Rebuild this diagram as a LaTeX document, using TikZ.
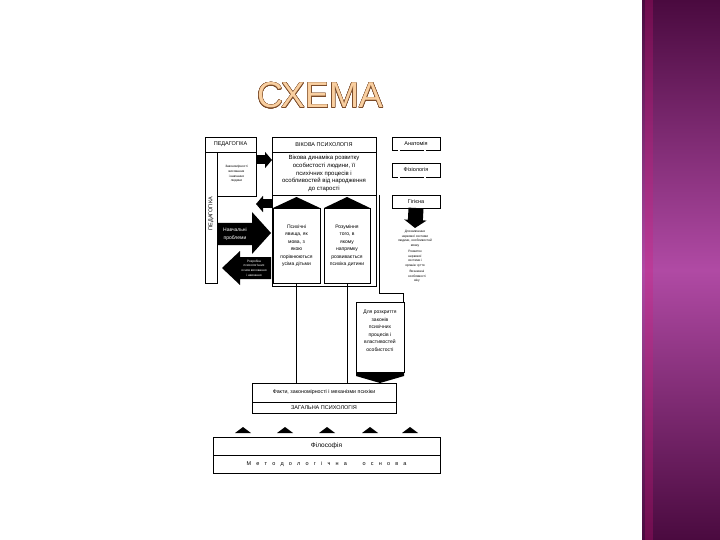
\documentclass[tikz,border=0pt]{standalone}
\usepackage{fontspec}
\setmainfont{Liberation Sans}
\usepackage[copies]{contour}
\usetikzlibrary{positioning,calc,arrows.meta}
\definecolor{plumdark}{HTML}{4A0A3F}
\definecolor{plummid}{HTML}{B04AA4}
\definecolor{titlefill}{HTML}{F9CFA0}
\definecolor{titleline}{HTML}{7A4A28}
\contourlength{0.4pt}
\tikzset{
    box/.style = {
        draw,
        line width=0.5pt,
        inner sep=0pt,
        outer sep=0pt,
        align=center,
        },
    headtext/.style = {
        font=\fontsize{5.5}{6}\selectfont,
        },
    bodytext/.style = {
        font=\fontsize{5}{7.5}\selectfont,
        align=center,
        },
    smalltext/.style = {
        font=\fontsize{3.2}{4.6}\selectfont,
        align=center,
        inner sep=0pt,
        },
    blockarrow/.style = {
        fill=black,
        },
    roof/.style = {
        fill=black,
        },
    twin/.style = {
        double,
        double distance=1.6pt,
        line width=0.5pt,
        },
    fatarrow/.style = {
        line width=9pt,
        -{Triangle[length=7pt,width=16pt]},
        },
}

\begin{document}
\begin{tikzpicture}[x=1pt, y=-1pt]
    \useasboundingbox (0,0) rectangle (720,540);
    \fill[white] (0,0) rectangle (720,540);

    % side band
    \shade[top color=plumdark, bottom color=plumdark, middle color=plummid] (642,0) rectangle (720,540);
    \fill[magenta!70!purple, opacity=0.25] (645,0) rectangle (653,540);

    \node[font=\fontsize{36}{36}\selectfont, text=titlefill, anchor=base] (title) at (320,108) {\contour{titleline}{СХЕМА}};

    % pedagogy column
    \node[box, headtext, minimum width=51pt, minimum height=15pt] (pedhead) at (230.5,144.5) {ПЕДАГОГІКА};
    \node[box, minimum width=12pt, minimum height=131pt, below=0pt of pedhead.south west, anchor=north west] (pedcol) {};
    \node[headtext, rotate=90] (pedlabel) at ($(pedcol)+(0,-4)$) {ПЕДАГОГІКА};
    \node[box, smalltext, minimum width=39pt, minimum height=44pt, anchor=north west] (zakon) at (pedcol.north east) {Закономірності\\виховання\\і навчання\\людини};

    % age psychology
    \node[box, headtext, minimum width=104pt, minimum height=15pt, anchor=north west] (vikhead) at (272,137) {ВІКОВА ПСИХОЛОГІЯ};
    \node[box, font=\fontsize{6}{7.8}\selectfont, minimum width=104pt, minimum height=43pt, below=0pt of vikhead] (vikopys) {Вікова динаміка розвитку\\особистості людини, її\\психічних процесів і\\особливостей від народження\\до старості};
    \node[box, minimum width=104pt, minimum height=91pt, below=0pt of vikopys] (vikframe) {};

    \node[box, bodytext, minimum width=47pt, minimum height=75pt, anchor=north west] (psykh) at (273,208) {Психічні\\явища, як\\мова, з\\якою\\порівнюються\\усіма дітьми};
    \node[box, bodytext, minimum width=46pt, minimum height=75pt, anchor=north west] (rozum) at (324,208) {Розуміння\\того, в\\якому\\напрямку\\розвивається\\психіка дитини};
    \fill[roof] (psykh.north west) -- (psykh.north east) -- ($(psykh.north)+(0,-11)$) -- cycle;
    \fill[roof] (rozum.north west) -- (rozum.north east) -- ($(rozum.north)+(0,-11)$) -- cycle;

    \draw[fatarrow] ([yshift=-8pt]zakon.north east) -- ([yshift=-8pt]vikopys.north west);
    \draw[fatarrow] ([yshift=-9pt]vikframe.north west) -- ([yshift=-8pt]zakon.south east);

    % big arrows
    \fill[blockarrow] (217,223) -- (252,223) -- (252,212) -- (271,233) -- (252,254) -- (252,245) -- (217,245) -- cycle;
    \node[bodytext, text=white] (navch) at (235,234) {Навчальні\\проблеми};
    \fill[blockarrow] (271,257) -- (240,257) -- (240,251) -- (222,268) -- (240,285) -- (240,279) -- (271,279) -- cycle;
    \node[smalltext, text=white] (rozrob) at (254,268) {Розробка\\психологічних\\основ виховання\\і навчання};

    % right column
    \node[box, headtext, minimum width=48pt, minimum height=13pt] (anat) at (416,143.5) {Анатомія};
    \node[box, headtext, minimum width=48pt, minimum height=14pt, below=13pt of anat] (fiz) {Фізіологія};
    \node[box, headtext, minimum width=48pt, minimum height=13pt, below=18pt of fiz] (gig) {Гігієна};
    \draw[twin] ([xshift=7pt]anat.south west) -- ([xshift=7pt]fiz.north west);
    \draw[twin] ([xshift=-15pt]anat.south east) -- ([xshift=-15pt]fiz.north east);
    \draw[twin] ([xshift=7pt]fiz.south west) -- ([xshift=7pt]gig.north west);
    \draw[twin] ([xshift=-15pt]fiz.south east) -- ([xshift=-15pt]gig.north east);

    \node[smalltext, anchor=north] (vyvch) at (415,230) {Для вивчення\\нервової системи\\людини, особливостей\\мозку};
    \node[smalltext, below=3pt of vyvch] (rozv) {Розвиток\\нервової\\системи і\\органів чуття};
    \node[smalltext, below=3pt of rozv, xshift=2pt] (vyzn) {Визначені\\особливості\\віку};
    \draw[line width=15pt, -{Triangle[length=8pt,width=22pt]}] (gig.south) -- ([yshift=2pt]vyvch.north);

    % general psychology
    \node[box, minimum width=48pt, minimum height=70pt, anchor=north west] (rozkr) at (356,302) {};
    \node[bodytext, below=5pt of rozkr.north] (rozkrtxt) {Для розкриття\\законів\\психічних\\процесів і\\властивостей\\особистості};
    \draw[line width=0.5pt] ([xshift=3pt]vikopys.south east) |- ([xshift=-1pt,yshift=9pt]rozkr.north east) -- ([xshift=-1pt]rozkr.north east);

    \node[box, font=\fontsize{5.3}{6}\selectfont, minimum width=144pt, minimum height=19pt, anchor=north west] (fakty) at (252,383) {Факти, закономірності і механізми психіки};
    \node[box, headtext, minimum width=144pt, minimum height=11pt, below=0pt of fakty] (zagal) {ЗАГАЛЬНА ПСИХОЛОГІЯ};
    \fill[roof] (rozkr.south west) -- (rozkr.south east) -- ++(0,4) -- (rozkr.south |- fakty.north) -- ($(rozkr.south west)+(0,4)$) -- cycle;
    \draw[line width=0.5pt] (psykh.south) -- (psykh.south |- fakty.north);
    \draw[line width=0.5pt] (rozum.south) -- (rozum.south |- fakty.north);

    % methodology
    \node[box, font=\fontsize{6.5}{7}\selectfont, minimum width=227pt, minimum height=18pt, anchor=north west] (filos) at (213,437) {Філософія};
    \node[box, font=\fontsize{5.5}{6}\selectfont, minimum width=227pt, minimum height=18pt, below=0pt of filos] (metod) {\makebox[160pt][s]{М\hfil е\hfil т\hfil о\hfil д\hfil о\hfil л\hfil о\hfil г\hfil і\hfil ч\hfil н\hfil а\hfil\hfil\hfil о\hfil с\hfil н\hfil о\hfil в\hfil а}};
    \foreach \x in {243,285,327,370,410}
        \fill[roof] (\x-8,433) -- (\x+8,433) -- (\x,427) -- cycle;
\end{tikzpicture}
\end{document}
